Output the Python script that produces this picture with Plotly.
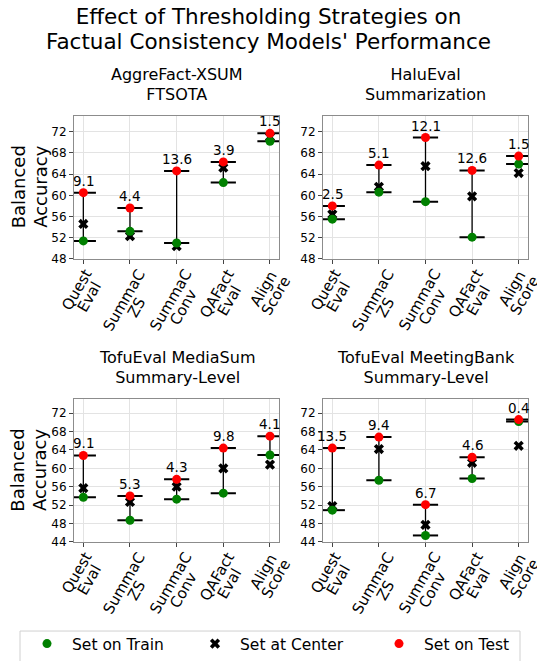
import plotly.graph_objects as go

categories = ["Quest<br>Eval", "SummaC<br>ZS", "SummaC<br>Conv", "QAFact<br>Eval", "Align<br>Score"]
panel_titles = ["AggreFact-XSUM<br>FTSOTA", "HaluEval<br>Summarization",
                "TofuEval MediaSum<br>Summary-Level", "TofuEval MeetingBank<br>Summary-Level"]
main_title = "Effect of Thresholding Strategies on<br>Factual Consistency Models' Performance"
y_title = "Balanced<br>Accuracy"
series_names = ["Set on Train", "Set at Center", "Set on Test"]

train_aggrefact = [51.4, 53.2, 51.0, 62.4, 70.2]
center_aggrefact = [54.6, 52.3, 50.4, 65.2, 71.0]
test_aggrefact = [60.5, 57.6, 64.6, 66.3, 71.7]
gap_aggrefact = ["9.1", "4.4", "13.6", "3.9", "1.5"]

train_halueval = [55.5, 60.6, 58.8, 52.1, 65.9]
center_halueval = [56.4, 61.6, 65.5, 59.8, 64.2]
test_halueval = [58.0, 65.7, 70.9, 64.7, 67.4]
gap_halueval = ["2.5", "5.1", "12.1", "12.6", "1.5"]

train_mediasum = [53.7, 48.7, 53.3, 54.6, 62.9]
center_mediasum = [55.7, 52.7, 56.0, 60.0, 60.8]
test_mediasum = [62.8, 54.0, 57.6, 64.4, 67.0]
gap_mediasum = ["9.1", "5.3", "4.3", "9.8", "4.1"]

train_meetingbank = [50.9, 57.4, 45.4, 57.8, 70.2]
center_meetingbank = [51.8, 64.2, 47.7, 61.2, 64.9]
test_meetingbank = [64.4, 66.8, 52.1, 62.4, 70.6]
gap_meetingbank = ["13.5", "9.4", "6.7", "4.6", "0.4"]

yticks_top = [48, 52, 56, 60, 64, 68, 72]
yticks_bottom = [44, 48, 52, 56, 60, 64, 68, 72]

panels = [
    (train_aggrefact, center_aggrefact, test_aggrefact, gap_aggrefact, yticks_top),
    (train_halueval, center_halueval, test_halueval, gap_halueval, yticks_top),
    (train_mediasum, center_mediasum, test_mediasum, gap_mediasum, yticks_bottom),
    (train_meetingbank, center_meetingbank, test_meetingbank, gap_meetingbank, yticks_bottom),
]

W, H = 537, 661
xdoms = [[74 / W, 279.3 / W], [323 / W, 528 / W]]
ydoms = [[1 - 259.3 / H, 1 - 116 / H], [1 - 542.7 / H, 1 - 400 / H]]
legend_x_px = [22, 190, 374]

FONT = "DejaVu Sans"


def tight(text, size):
    # wrap each line in a span of the given size (line spacing follows the outer font size)
    return "<br>".join("<span style='font-size:%spx'>%s</span>" % (size, t) for t in text.split("<br>"))


fig = go.Figure()
annotations = []
xpos = list(range(len(categories)))

for p, (train, center, test, gap, yt) in enumerate(panels):
    row, col = divmod(p, 2)
    ax = "" if p == 0 else str(p + 1)
    xa, ya = "x" + ax, "y" + ax
    lx, ly = [], []
    for i in xpos:
        lx += [i, i, None]
        ly += [train[i], test[i], None]
    fig.add_trace(go.Scatter(x=lx, y=ly, mode="lines", line=dict(color="black", width=1.3),
                             showlegend=False, hoverinfo="skip", xaxis=xa, yaxis=ya))
    fig.add_trace(go.Scatter(x=xpos + xpos, y=train + test, mode="markers",
                             marker=dict(symbol="line-ew", size=18,
                                         line=dict(color="black", width=2)),
                             showlegend=False, hoverinfo="skip", xaxis=xa, yaxis=ya))
    fig.add_trace(go.Scatter(x=xpos, y=center, mode="markers", name=series_names[1],
                             marker=dict(symbol="x", size=9, color="black"),
                             showlegend=(p == 0), legend="legend2", xaxis=xa, yaxis=ya))
    fig.add_trace(go.Scatter(x=xpos, y=train, mode="markers", name=series_names[0],
                             marker=dict(symbol="circle", size=9, color="green"),
                             showlegend=(p == 0), legend="legend", xaxis=xa, yaxis=ya))
    fig.add_trace(go.Scatter(x=xpos, y=test, mode="markers", name=series_names[2],
                             marker=dict(symbol="circle", size=9, color="red"),
                             showlegend=(p == 0), legend="legend3", xaxis=xa, yaxis=ya))
    for i in xpos:
        annotations.append(dict(x=i, y=test[i], xref=xa, yref=ya, text=gap[i],
                                showarrow=False, xanchor="center", yanchor="bottom", yshift=3,
                                borderpad=0,
                                font=dict(size=13.5, color="black", family=FONT)))
        annotations.append(dict(x=i, y=ydoms[row][0], xref=xa, yref="paper",
                                text=tight(categories[i], 15), showarrow=False,
                                textangle=-60, xanchor="center", yanchor="top",
                                yshift=-6, borderpad=0,
                                font=dict(size=11, color="black", family=FONT)))
    axstyle = dict(showline=True, mirror=True, linecolor="#8c8c8c", linewidth=1,
                   showgrid=True, gridcolor="#e3e3e3", gridwidth=1, zeroline=False,
                   ticks="outside", ticklen=4, tickcolor="#444", tickwidth=1,
                   automargin=False)
    fig.layout["xaxis" + ax] = dict(domain=xdoms[col], anchor=ya, range=[-0.2, 4.2],
                                    tickvals=xpos, showticklabels=False, **axstyle)
    fig.layout["yaxis" + ax] = dict(domain=ydoms[row], anchor=xa,
                                    range=[yt[0], 75.0], tickvals=yt,
                                    tickfont=dict(size=12, family=FONT, color="black"),
                                    **axstyle)
    cx = (xdoms[col][0] + xdoms[col][1]) / 2
    annotations.append(dict(x=cx, y=ydoms[row][1], xref="paper", yref="paper",
                            text=tight(panel_titles[p], 16), showarrow=False,
                            xanchor="center", yanchor="bottom", yshift=10,
                            font=dict(size=15.4, family=FONT, color="black")))
    if col == 0:
        annotations.append(dict(x=29 / W, y=(ydoms[row][0] + ydoms[row][1]) / 2,
                                xref="paper", yref="paper", text=tight(y_title, 18),
                                showarrow=False, textangle=-90,
                                xanchor="center", yanchor="middle",
                                font=dict(size=17, family=FONT, color="black")))

annotations.append(dict(x=0.5, y=1 - 2 / H, xref="paper", yref="paper",
                        text=tight(main_title, 21.5), showarrow=False,
                        xanchor="center", yanchor="top",
                        font=dict(size=19.5, family=FONT, color="black")))

legend_common = dict(orientation="h", xanchor="left", y=1 - 645 / H, yanchor="middle",
                     font=dict(size=15.5, family=FONT, color="black"),
                     borderwidth=0, bgcolor="rgba(0,0,0,0)", itemsizing="trace",
                     itemwidth=40)

fig.update_layout(
    width=W, height=H, margin=dict(l=0, r=0, t=0, b=0),
    paper_bgcolor="white", plot_bgcolor="white",
    font=dict(family=FONT, color="black"),
    annotations=annotations,
    shapes=[dict(type="rect", xref="paper", yref="paper",
                 x0=20 / W, x1=520 / W, y0=1 - 670 / H, y1=1 - 632 / H,
                 line=dict(color="#d0d0d0", width=1), fillcolor="white", layer="below")],
    legend=dict(x=legend_x_px[0] / W, **legend_common),
    legend2=dict(x=legend_x_px[1] / W, **legend_common),
    legend3=dict(x=legend_x_px[2] / W, **legend_common),
)

fig.write_html("out.html", config={"displayModeBar": False},
               post_script="document.body.style.margin='0';")
